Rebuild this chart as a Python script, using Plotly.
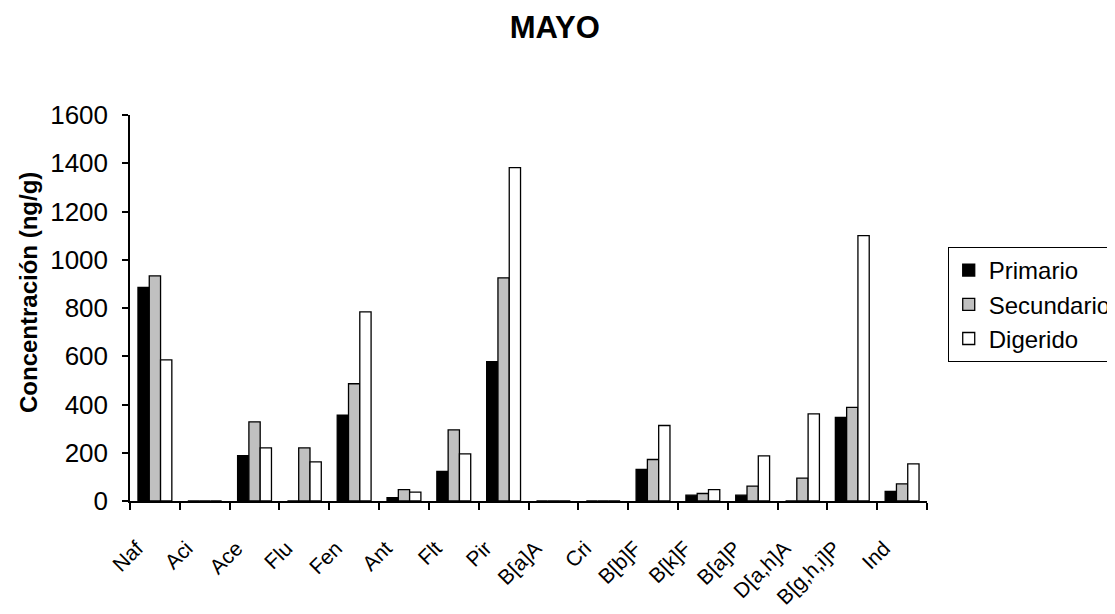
import plotly.graph_objects as go

categories = ["Naf", "Aci", "Ace", "Flu", "Fen", "Ant", "Flt", "Pir", "B[a]A", "Cri",
              "B[b]F", "B[k]F", "B[a]P", "D[a,h]A", "B[g,h,i]P", "Ind"]
primario = [885, 0, 188, 0, 356, 14, 123, 578, 0, 0, 131, 24, 24, 0, 347, 40]
secundario = [933, 0, 328, 220, 486, 47, 295, 925, 0, 0, 172, 31, 62, 95, 388, 71]
digerido = [585, 0, 220, 162, 784, 37, 195, 1382, 0, 0, 313, 47, 187, 361, 1100, 154]
y_ticks = [0, 200, 400, 600, 800, 1000, 1200, 1400, 1600]

FONT = "Liberation Sans, Arial, sans-serif"

fig = go.Figure()
for name, vals, col in [("Primario", primario, "#000000"),
                        ("Secundario", secundario, "#C0C0C0"),
                        ("Digerido", digerido, "#FFFFFF")]:
    fig.add_trace(go.Bar(x=categories, y=vals, name=name,
                         marker=dict(color=col, line=dict(color="#000000", width=1.3))))

fig.update_layout(
    width=1107, height=606,
    paper_bgcolor="white", plot_bgcolor="white",
    margin=dict(l=122, r=188, t=107, b=113, autoexpand=False),
    barmode="group", bargap=0.32, bargroupgap=0,
    font=dict(family=FONT, color="black"),
    title=dict(text="<b>MAYO</b>", x=0.533, xref="paper", xanchor="center",
               y=1 - 19 / 606, yanchor="middle", font=dict(size=31, family=FONT)),
    showlegend=True,
    legend=dict(x=1.026, y=0.658, xanchor="left", yanchor="top",
                bgcolor="white", bordercolor="black", borderwidth=1,
                font=dict(size=24, family=FONT), tracegroupgap=0,
                itemwidth=30, traceorder="normal"),
    xaxis=dict(type="category", showline=True, linecolor="black", linewidth=1.5,
               ticks="outside", tickson="boundaries", ticklen=7, tickcolor="black",
               tickwidth=1.5, tickangle=-45, tickfont=dict(size=21, family=FONT),
               ticklabelstandoff=25, ticklabelshift=-18,
               showgrid=False, zeroline=False, automargin=False),
    yaxis=dict(range=[0, 1600], tickvals=y_ticks, showline=True, linecolor="black",
               linewidth=1.5, ticks="outside", ticklen=6, tickcolor="black", tickwidth=1.5,
               tickfont=dict(size=26, family=FONT), showgrid=False, zeroline=False,
               ticklabelstandoff=9, automargin=False),
    annotations=[dict(text="<b>Concentración (ng/g)</b>", textangle=-90,
                      xref="paper", yref="paper", x=(28 - 130) / 797, y=(501 - 293) / 386,
                      xanchor="center", yanchor="middle", showarrow=False,
                      font=dict(size=24, family=FONT))],
)

fig.write_html("out.html")
